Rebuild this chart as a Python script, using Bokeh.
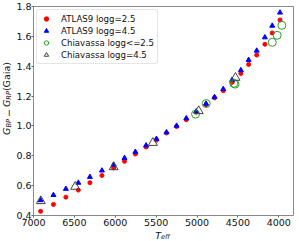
from bokeh.plotting import figure
from bokeh.models import Range1d, FixedTicker, Label, Legend, LegendItem
from bokeh.layouts import row, column
from bokeh.embed import file_html
from bokeh.resources import INLINE

# ---- data ----
teff_atlas = [6913, 6756, 6604, 6452, 6310, 6163, 6020, 5887, 5754, 5623, 5496, 5373,
              5250, 5131, 5010, 4890, 4786, 4679, 4571, 4464, 4369, 4270, 4170, 4080, 3985]
color_atlas_g25 = [0.428, 0.474, 0.523, 0.570, 0.620, 0.668, 0.719, 0.763, 0.812, 0.859,
                   0.905, 0.953, 0.996, 1.042, 1.092, 1.142, 1.188, 1.236, 1.292, 1.351,
                   1.412, 1.475, 1.547, 1.623, 1.710]
color_atlas_g45 = [0.502, 0.537, 0.578, 0.619, 0.658, 0.701, 0.740, 0.785, 0.826, 0.869,
                   0.913, 0.957, 1.001, 1.051, 1.097, 1.149, 1.193, 1.247, 1.308, 1.373,
                   1.442, 1.504, 1.593, 1.671, 1.759]
teff_chia_g25 = [5018, 4887, 4550, 4535, 4080, 4020, 3962]
color_chia_g25 = [1.079, 1.150, 1.285, 1.280, 1.560, 1.607, 1.674]
teff_chia_g45 = [6910, 6490, 6020, 5540, 4980, 4530]
color_chia_g45 = [0.497, 0.593, 0.724, 0.887, 1.100, 1.323]

x_ticks = [7000, 6500, 6000, 5500, 5000, 4500, 4000]
x_tick_labels = ["7000", "6500", "6000", "5500", "5000", "4500", "4000"]
y_ticks = [0.4, 0.6, 0.8, 1.0, 1.2, 1.4, 1.6, 1.8]
y_tick_labels = ["0.4", "0.6", "0.8", "1.0", "1.2", "1.4", "1.6", "1.8"]

series_names = ["ATLAS9 logg=2.5", "ATLAS9 logg=4.5", "Chiavassa logg<=2.5", "Chiavassa logg=4.5"]

FONT = "DejaVu Sans"
TICK_FS = "9.5px"

TOTAL_W, TOTAL_H = 299, 241
YT_W = 13          # strip for the y title
XT_H = 12          # strip for the x title
P_W = TOTAL_W - YT_W
P_H = TOTAL_H - XT_H
MB_L, MB_R, MB_T, MB_B = 18, 6, 6, 14

p = figure(width=P_W, height=P_H, x_range=Range1d(7000, 3820), y_range=Range1d(0.4, 1.8),
           output_backend="svg", toolbar_location=None,
           min_border_left=MB_L, min_border_right=MB_R, min_border_top=MB_T,
           min_border_bottom=MB_B)
p.background_fill_color = "white"
p.border_fill_color = "white"
p.xgrid.visible = False
p.ygrid.visible = False
p.outline_line_color = "#8a8a8a"
p.outline_line_width = 1

for ax in (p.xaxis, p.yaxis):
    ax.axis_line_color = None
    ax.major_tick_line_color = "#666666"
    ax.major_tick_out = 2
    ax.major_tick_in = 0
    ax.minor_tick_line_color = None
    ax.major_label_text_font = FONT
    ax.major_label_text_font_size = TICK_FS
    ax.major_label_text_color = "#111111"
    ax.major_label_standoff = 1
p.yaxis.major_label_standoff = 0

p.xaxis.ticker = FixedTicker(ticks=x_ticks)
p.xaxis.major_label_overrides = dict(zip(x_ticks, x_tick_labels))
p.yaxis.ticker = FixedTicker(ticks=y_ticks)
p.yaxis.major_label_overrides = dict(zip(y_ticks, y_tick_labels))

r1 = p.scatter(teff_atlas, color_atlas_g25, marker="circle", size=4,
               fill_color="red", line_color="red")
r2 = p.scatter(teff_atlas, color_atlas_g45, marker="triangle", size=5,
               fill_color="blue", line_color="blue")
r3 = p.scatter(teff_chia_g25, color_chia_g25, marker="circle", size=8,
               fill_color=None, line_color="#2ca02c", line_width=1)
r4 = p.scatter(teff_chia_g45, color_chia_g45, marker="triangle", size=9,
               fill_color=None, line_color="#444444", line_width=1)

legend = Legend(items=[LegendItem(label=n, renderers=[r]) for n, r in
                       zip(series_names, [r1, r2, r3, r4])],
                location="top_left")
legend.label_text_font = FONT
legend.label_text_font_size = "8.6px"
legend.label_text_color = "#111111"
legend.glyph_width = 12
legend.glyph_height = 11
legend.label_height = 11
legend.label_standoff = 9
legend.spacing = 1
legend.padding = 3
legend.margin = 3
legend.border_line_color = "#cccccc"
legend.border_line_width = 1
legend.border_radius = 3
legend.background_fill_alpha = 0.8
p.add_layout(legend)


def strip(w, h):
    f = figure(width=w, height=h, x_range=Range1d(0, 1), y_range=Range1d(0, 1),
               output_backend="svg", toolbar_location=None, min_border=0,
               x_axis_location=None, y_axis_location=None)
    f.xgrid.visible = False
    f.ygrid.visible = False
    f.outline_line_color = None
    f.background_fill_color = "white"
    f.border_fill_color = "white"
    return f

# ---- composed axis titles (real text, with subscripts) ----
W = {"G": 0.775, "B": 0.686, "P": 0.603, "R": 0.695, "T": 0.611, "e": 0.615, "f": 0.352,
     " ": 0.318, "(": 0.390, ")": 0.390, "a": 0.613, "i": 0.278, "\u2212": 0.838}
DESC = 0.236   # descent / em of DejaVu Sans (anchor is the text-box bottom)

def width(s, fs):
    return sum(W.get(c, 0.6) for c in s) * fs

MAIN = 9.5
SUB = 6.65

def piece(fig, txt, fs, italic, x, y, angle):
    fig.add_layout(Label(x=x, y=y, x_units="screen", y_units="screen", text=txt,
                         angle=angle, angle_units="deg", text_font=FONT,
                         text_font_size=f"{fs}px",
                         text_font_style="italic" if italic else "normal",
                         text_color="#111111"))

# y title: G_BP - G_RP (Gaia), reading upward, centred on the frame
ystrip = strip(YT_W, P_H)
frame_mid_y = MB_B + (P_H - MB_T - MB_B) / 2      # from strip bottom
ypieces = [("G", MAIN, True, 0.0, 0.0), ("BP", SUB, True, 1.5, 0.0),
           ("\u2212", MAIN, False, 0.0, 2.0), ("G", MAIN, True, 0.0, 0.0),
           ("RP", SUB, True, 1.5, 0.0), (" (Gaia)", MAIN, False, 0.0, 0.0)]
total = sum(width(t, f) + pad for t, f, _, _, pad in ypieces) + 2
pos = frame_mid_y - total / 2
BASE_X = 9.5
for t, f, it, sh, pad in ypieces:
    if t == "\u2212":
        pos += 2
    piece(ystrip, t, f, it, BASE_X + sh + DESC * f, pos, 90)
    pos += width(t, f) + pad

# x title: T_eff, centred under the frame
xstrip = strip(TOTAL_W, XT_H)
frame_mid_x = YT_W + MB_L + (P_W - MB_L - MB_R) / 2
xpieces = [("T", MAIN, True, 0.0), ("eff", SUB, True, -1.6)]
total = sum(width(t, f) for t, f, _, _ in xpieces)
pos = frame_mid_x - total / 2
BASE_Y = 3.2
for t, f, it, sh in xpieces:
    piece(xstrip, t, f, it, pos, BASE_Y + sh - DESC * f, 0)
    pos += width(t, f)

layout = column(row(ystrip, p), xstrip)

open("out.html", "w").write(file_html(layout, INLINE))
